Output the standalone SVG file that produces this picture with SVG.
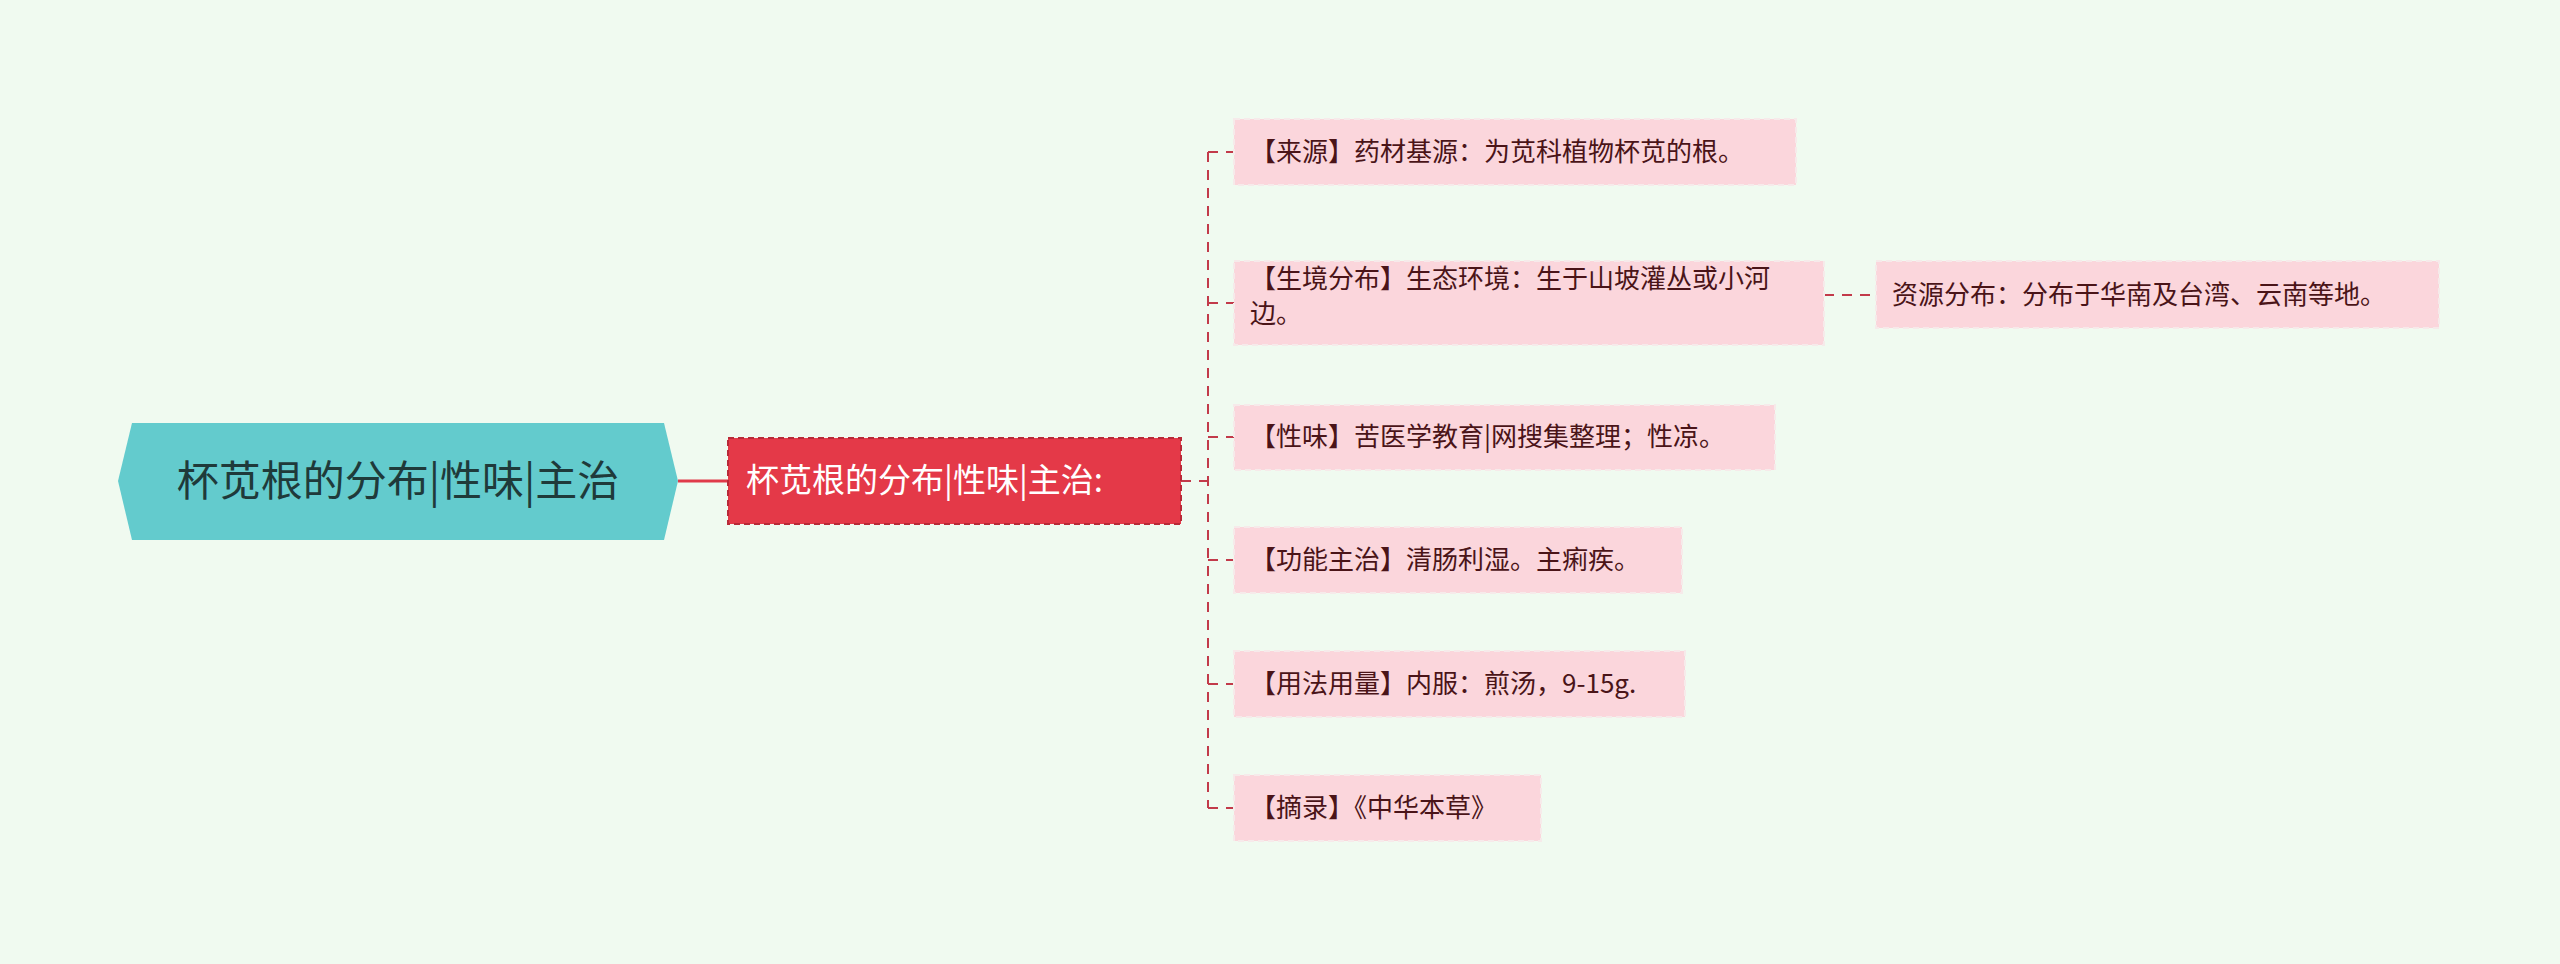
<svg xmlns="http://www.w3.org/2000/svg" width="2560" height="964" viewBox="0 0 2560 964">
<style>
.leaf rect{fill:#fbd6dc;stroke:#f6eaea;stroke-width:2;stroke-dasharray:6 4}
.leaf text{font-family:"Noto Sans CJK SC","Noto Sans",sans-serif;font-size:26px;fill:#4a1418}
.c{stroke:#c23a4a;stroke-width:2;fill:none;stroke-dasharray:10 8}
</style>
<rect width="2560" height="964" fill="#f0faf0"/>
<g id="connectors">
<line x1="678" y1="481" x2="728" y2="481" stroke="#e03a4a" stroke-width="3"/>
<line class="c" x1="1181" y1="481" x2="1208" y2="481"/>
<path class="c" d="M1208 152 V808"/>
<path class="c" d="M1208 152 H1234 M1208 303 H1234 M1208 437 H1234 M1208 560 H1234 M1208 684 H1234 M1208 808 H1234"/>
<path class="c" d="M1824 295 H1876"/>
</g>
<g id="root">
<polygon points="132,423 664,423 678,481 664,540 132,540 118,481" fill="#63cbcd"/>
<text x="398" y="496" text-anchor="middle" font-family="Noto Sans CJK SC,sans-serif" font-size="42" fill="#1f3a3a">杯苋根的分布|性味|主治</text>
</g>
<g id="center">
<rect x="728" y="438" width="453" height="86" fill="#e43948" stroke="#b82a38" stroke-width="2" stroke-dasharray="6 4"/>
<text x="746" y="492" font-family="Noto Sans CJK SC,sans-serif" font-size="33" fill="#ffffff">杯苋根的分布|性味|主治:</text>
</g>
<g id="n1" class="leaf"><rect x="1234" y="119" width="562" height="66"/><text x="1250" y="161">【来源】药材基源：为苋科植物杯苋的根。</text></g>
<g id="n2" class="leaf"><rect x="1234" y="261" width="590" height="84"/><text x="1250" y="288">【生境分布】生态环境：生于山坡灌丛或小河</text><text x="1250" y="323">边。</text></g>
<g id="n2a" class="leaf"><rect x="1876" y="261" width="563" height="67"/><text x="1892" y="304">资源分布：分布于华南及台湾、云南等地。</text></g>
<g id="n3" class="leaf"><rect x="1234" y="405" width="541" height="65"/><text x="1250" y="446">【性味】苦医学教育|网搜集整理；性凉。</text></g>
<g id="n4" class="leaf"><rect x="1234" y="527" width="448" height="66"/><text x="1250" y="569">【功能主治】清肠利湿。主痢疾。</text></g>
<g id="n5" class="leaf"><rect x="1234" y="651" width="451" height="66"/><text x="1250" y="693">【用法用量】内服：煎汤，9-15g.</text></g>
<g id="n6" class="leaf"><rect x="1234" y="775" width="307" height="66"/><text x="1250" y="817">【摘录】《中华本草》</text></g>
</svg>
